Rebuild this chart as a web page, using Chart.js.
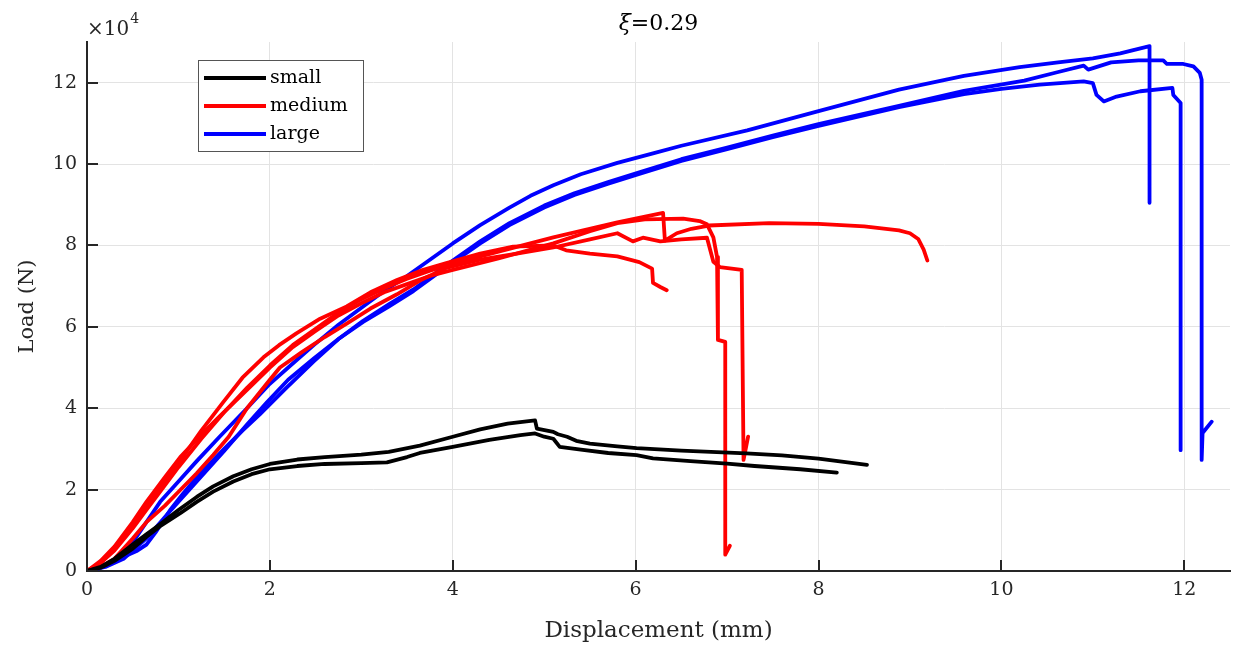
<!DOCTYPE html>
<html lang="en">
<head>
<meta charset="UTF-8">
<title>Load vs displacement, xi=0.29</title>
<script src="https://cdn.jsdelivr.net/npm/chart.js"></script>
<style>
  html, body { margin: 0; padding: 0; background: #fff; }
  #wrap { width: 1233px; height: 646px; }
</style>
</head>
<body>
<div id="wrap"><canvas id="plot" width="1233" height="646"></canvas></div>
<script>
// displacement in mm, load in units of 1e4 N (axis shows x10^4)
const smallA = [[0,0],[0.15,0.1],[0.3,0.3],[0.5,0.65],[0.65,0.9],[0.8,1.15],[1.0,1.5],[1.2,1.82],[1.38,2.08],[1.6,2.33],[1.8,2.5],[2.0,2.63],[2.3,2.74],[2.6,2.8],[3.0,2.86],[3.3,2.93],[3.64,3.08],[4.0,3.3],[4.3,3.48],[4.6,3.62],[4.9,3.7],[4.92,3.5],[5.1,3.42],[5.15,3.36],[5.25,3.3],[5.35,3.2],[5.5,3.13],[5.8,3.06],[6.01,3.02],[6.5,2.96],[7.21,2.89],[7.6,2.84],[8.0,2.76],[8.53,2.61]];
const smallB = [[0,0],[0.15,0.08],[0.3,0.25],[0.5,0.55],[0.65,0.84],[0.8,1.1],[1.02,1.42],[1.2,1.7],[1.38,1.95],[1.6,2.2],[1.8,2.38],[2.0,2.5],[2.3,2.58],[2.6,2.63],[3.0,2.65],[3.28,2.67],[3.5,2.8],[3.64,2.9],[4.0,3.05],[4.4,3.22],[4.74,3.34],[4.9,3.38],[5.0,3.3],[5.1,3.25],[5.17,3.05],[5.4,2.98],[5.7,2.9],[6.01,2.85],[6.19,2.77],[6.6,2.7],[7.0,2.64],[7.3,2.58],[7.8,2.5],[8.2,2.42]];

const mediumA = [[0,0],[0.15,0.2],[0.3,0.5],[0.5,1.05],[0.65,1.5],[0.8,1.95],[1.0,2.55],[1.25,3.25],[1.5,3.9],[1.75,4.5],[2.0,5.05],[2.25,5.55],[2.5,5.95],[2.75,6.35],[3.0,6.68],[3.25,6.95],[3.5,7.18],[3.75,7.38],[4.0,7.55],[4.5,7.85],[5.1,8.2],[5.8,8.57],[6.3,8.8],[6.32,8.12],[6.45,8.3],[6.61,8.41],[6.8,8.49],[7.46,8.55],[8.0,8.53],[8.5,8.47],[8.88,8.37],[9.0,8.3],[9.09,8.16],[9.15,7.9],[9.19,7.63]];
const mediumB = [[0,0],[0.15,0.25],[0.3,0.6],[0.5,1.2],[0.65,1.7],[0.85,2.3],[1.02,2.8],[1.25,3.35],[1.45,3.8],[1.75,4.45],[2.0,5.0],[2.25,5.5],[2.5,5.9],[2.75,6.28],[3.0,6.58],[3.25,6.85],[3.5,7.05],[3.75,7.25],[4.0,7.4],[4.5,7.68],[5.1,8.05],[5.5,8.35],[5.8,8.55],[6.1,8.64],[6.52,8.66],[6.7,8.6],[6.78,8.52],[6.85,8.2],[6.89,7.72],[6.9,5.68],[6.98,5.63],[6.98,0.4],[7.03,0.62]];
const mediumC = [[0,0],[0.15,0.1],[0.3,0.3],[0.5,0.8],[0.65,1.2],[0.85,1.6],[1.02,1.99],[1.2,2.4],[1.38,2.85],[1.55,3.3],[1.75,4.0],[2.0,4.7],[2.11,5.0],[2.35,5.38],[2.6,5.75],[2.84,6.08],[3.1,6.45],[3.39,6.8],[3.65,7.15],[3.93,7.45],[4.3,7.65],[4.7,7.8],[5.1,7.95],[5.5,8.15],[5.8,8.3],[5.97,8.1],[6.08,8.19],[6.27,8.1],[6.5,8.15],[6.78,8.19],[6.85,7.6],[6.92,7.47],[7.16,7.4],[7.18,2.73],[7.23,3.3]];
const mediumD = [[0,0],[0.15,0.2],[0.3,0.55],[0.5,1.15],[0.65,1.6],[0.85,2.2],[1.0,2.65],[1.25,3.45],[1.49,4.15],[1.7,4.75],[1.93,5.25],[2.1,5.55],[2.29,5.84],[2.55,6.2],[2.84,6.5],[3.1,6.85],[3.39,7.15],[3.65,7.38],[3.93,7.57],[4.3,7.8],[4.66,7.97],[5.1,8.0],[5.24,7.88],[5.5,7.8],[5.8,7.73],[6.04,7.59],[6.18,7.43],[6.19,7.08],[6.27,6.98],[6.34,6.9]];

const largeA = [[0,0],[0.15,0.1],[0.3,0.27],[0.5,0.7],[0.65,1.2],[0.8,1.7],[1.02,2.25],[1.2,2.7],[1.45,3.3],[1.75,4.0],[2.0,4.6],[2.25,5.1],[2.48,5.55],[2.75,6.05],[3.02,6.5],[3.25,6.88],[3.5,7.25],[3.75,7.65],[4.0,8.05],[4.3,8.5],[4.62,8.93],[4.85,9.22],[5.1,9.48],[5.4,9.75],[5.8,10.03],[6.2,10.27],[6.5,10.45],[7.22,10.83],[8.0,11.3],[8.88,11.83],[9.59,12.17],[10.2,12.38],[10.62,12.5],[11.0,12.6],[11.3,12.72],[11.62,12.9],[11.62,9.05]];
const largeB = [[0,0],[0.2,0.12],[0.4,0.35],[0.55,0.5],[0.65,0.65],[0.75,0.95],[0.91,1.5],[1.05,1.9],[1.2,2.3],[1.5,3.0],[1.7,3.45],[1.89,3.85],[2.18,4.5],[2.48,5.15],[2.75,5.7],[3.02,6.15],[3.3,6.55],[3.57,6.92],[3.95,7.55],[4.3,8.1],[4.62,8.55],[5.0,8.98],[5.33,9.28],[5.7,9.56],[6.04,9.8],[6.5,10.12],[6.99,10.4],[7.5,10.7],[8.0,10.98],[8.88,11.43],[9.59,11.8],[10.25,12.05],[10.6,12.25],[10.9,12.42],[10.95,12.32],[11.2,12.5],[11.5,12.55],[11.77,12.55],[11.81,12.46],[11.99,12.46],[12.1,12.4],[12.17,12.24],[12.19,12.07],[12.19,2.73],[12.2,3.39],[12.3,3.67]];
const largeC = [[0,0],[0.2,0.1],[0.4,0.3],[0.65,0.8],[0.9,1.45],[1.2,2.2],[1.5,2.95],[1.75,3.6],[1.97,4.15],[2.2,4.7],[2.48,5.22],[2.75,5.7],[3.02,6.12],[3.3,6.5],[3.57,6.88],[3.95,7.5],[4.3,8.05],[4.62,8.5],[5.0,8.93],[5.33,9.24],[5.7,9.52],[6.04,9.76],[6.5,10.08],[6.99,10.36],[7.5,10.66],[8.0,10.94],[8.88,11.4],[9.59,11.72],[10.0,11.85],[10.42,11.95],[10.9,12.03],[11.0,11.99],[11.04,11.7],[11.12,11.54],[11.26,11.66],[11.52,11.79],[11.87,11.87],[11.88,11.7],[11.96,11.5],[11.96,2.97]];

const groups = ['small', 'medium', 'large'];
const groupColors = ['#000000', '#ff0000', '#0000ff'];
const groupCurves = [[smallA, smallB], [mediumA, mediumB, mediumC, mediumD], [largeA, largeB, largeC]];

const xLimits = [0, 12.5];
const yLimits = [0, 13];
const axisColor = '#262626';
const serif = '"DejaVu Serif", "Liberation Serif", serif';

const datasets = [];
groupCurves.forEach((curves, g) => {
    curves.forEach(c => datasets.push({
        label: groups[g],
        data: c.map(p => ({ x: p[0], y: p[1] })),
        borderColor: groupColors[g],
        borderWidth: 3.8,
        pointRadius: 0,
        tension: 0,
        fill: false,
        borderJoinStyle: 'round',
        borderCapStyle: 'round'
    }));
});

// ticks point inward, plus title, exponent and legend box
const overlay = {
    id: 'overlay',
    afterDraw(chart) {
        const { ctx, chartArea: a, scales: { x, y } } = chart;
        ctx.save();
        ctx.strokeStyle = axisColor;
        ctx.lineWidth = 2;
        x.ticks.forEach(t => {
            const px = Math.round(x.getPixelForValue(t.value));
            ctx.beginPath(); ctx.moveTo(px, a.bottom); ctx.lineTo(px, a.bottom - 11); ctx.stroke();
        });
        y.ticks.forEach(t => {
            const py = Math.round(y.getPixelForValue(t.value));
            ctx.beginPath(); ctx.moveTo(a.left, py); ctx.lineTo(a.left + 11, py); ctx.stroke();
        });

        // x10^4
        ctx.fillStyle = axisColor;
        ctx.textBaseline = 'alphabetic';
        ctx.textAlign = 'left';
        ctx.font = '20px ' + serif;
        ctx.fillText('\u00d710', a.left, 35);
        const w = ctx.measureText('\u00d710').width;
        ctx.font = '14px ' + serif;
        ctx.fillText('4', a.left + w + 1, 23);

        // title
        ctx.fillStyle = '#000';
        ctx.font = 'italic 22px ' + serif;
        const t1 = '\u03be';
        const w1 = ctx.measureText(t1).width;
        ctx.font = '22px ' + serif;
        const t2 = '=0.29';
        const w2 = ctx.measureText(t2).width;
        const cx = (a.left + a.right) / 2;
        const start = cx - (w1 + w2) / 2;
        ctx.font = 'italic 22px ' + serif;
        ctx.fillText(t1, start, 30);
        ctx.font = '22px ' + serif;
        ctx.fillText(t2, start + w1, 30);

        // legend
        const lx = 198, ly = 60, lw = 165, lh = 91;
        ctx.fillStyle = '#fff';
        ctx.fillRect(lx, ly, lw, lh);
        ctx.strokeStyle = '#555';
        ctx.lineWidth = 1;
        ctx.strokeRect(lx + 0.5, ly + 0.5, lw, lh);
        ctx.font = '19px ' + serif;
        ctx.textBaseline = 'middle';
        groups.forEach((g, i) => {
            const yy = ly + 18 + i * 28;
            ctx.strokeStyle = groupColors[i];
            ctx.lineWidth = 4;
            ctx.beginPath(); ctx.moveTo(lx + 6, yy); ctx.lineTo(lx + 68, yy); ctx.stroke();
            ctx.fillStyle = '#000';
            ctx.fillText(g, lx + 72, yy);
        });
        ctx.restore();
    }
};

new Chart(document.getElementById('plot'), {
    type: 'line',
    data: { datasets },
    plugins: [overlay],
    options: {
        responsive: false,
        animation: false,
        devicePixelRatio: 1,
        layout: { padding: { top: 42, right: 3, left: 0, bottom: 0 } },
        plugins: { legend: { display: false }, tooltip: { enabled: false }, title: { display: false } },
        scales: {
            x: {
                type: 'linear',
                min: xLimits[0], max: xLimits[1],
                afterFit: s => { s.height = 75; },
                ticks: { stepSize: 2, includeBounds: false, padding: 8, color: axisColor, font: { family: serif, size: 19 } },
                grid: { color: '#e3e3e3', lineWidth: 1, drawTicks: false },
                border: { color: axisColor, width: 2 },
                title: { display: true, text: 'Displacement (mm)', color: axisColor, padding: { bottom: 1 }, font: { family: serif, size: 23 } }
            },
            y: {
                type: 'linear',
                min: yLimits[0], max: yLimits[1],
                afterFit: s => { s.width = 87; },
                ticks: { stepSize: 2, includeBounds: false, padding: 10, color: axisColor, font: { family: serif, size: 19 } },
                grid: { color: '#e3e3e3', lineWidth: 1, drawTicks: false },
                border: { color: axisColor, width: 2 },
                title: { display: true, text: 'Load (N)', color: axisColor, padding: { top: 15 }, font: { family: serif, size: 21 } }
            }
        }
    }
});
</script>
</body>
</html>
